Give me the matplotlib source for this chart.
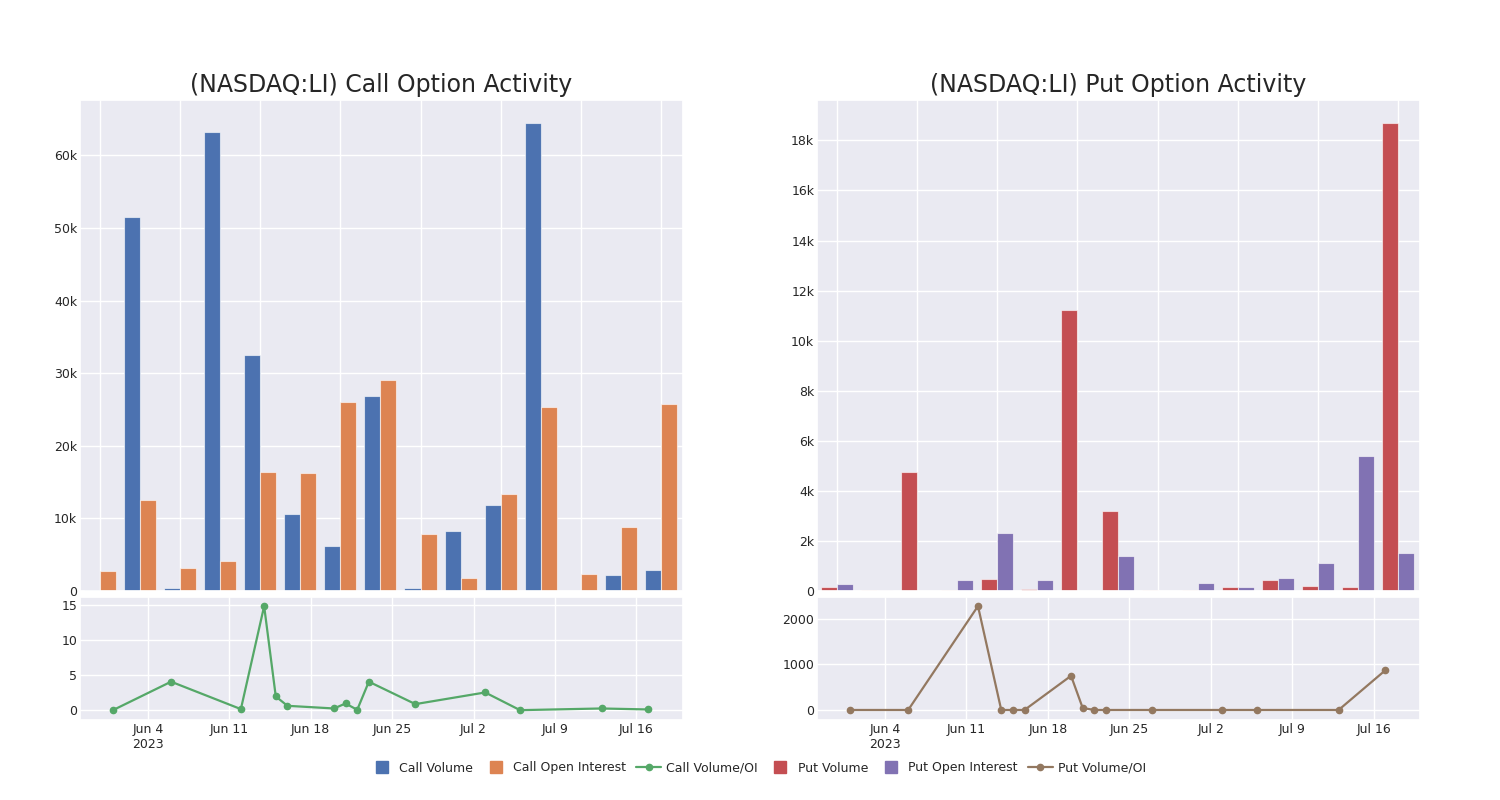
import numpy as np
import pandas as pd
import matplotlib
matplotlib.use("Agg")
import matplotlib.pyplot as plt
import seaborn as sns
from matplotlib.lines import Line2D

sns.set_theme(style="darkgrid")
plt.rcParams['font.family'] = ['DejaVu Sans']

# trade dates (one bar group / line point each)
dates = pd.to_datetime(["2023-06-01", "2023-06-06", "2023-06-12", "2023-06-14", "2023-06-15",
                        "2023-06-16", "2023-06-20", "2023-06-21", "2023-06-22", "2023-06-23",
                        "2023-06-27", "2023-07-03", "2023-07-06", "2023-07-13", "2023-07-17"])

call_volume = [100, 51500, 450, 63250, 32500, 10600, 6200, 26900, 400, 8200, 11850, 64400, 50, 2170, 2860]
call_oi = [2800, 12500, 3100, 4150, 16450, 16300, 26000, 29100, 7850, 1850, 13300, 25300, 2300, 8800, 25700]
call_ratio = [0.0, 4.05, 0.15, 14.8, 1.95, 0.62, 0.24, 0.95, 0.05, 4.05, 0.86, 2.52, 0.0, 0.24, 0.1]

put_volume = [150, 20, 4740, 20, 470, 70, 11230, 3200, 30, 30, 150, 430, 190, 150, 18680]
put_oi = [270, 30, 10, 450, 2300, 430, 10, 1390, 10, 330, 150, 500, 1120, 5410, 1520]
put_ratio = [0, 0, 2280, 0, 0, 0, 750, 44, 0, 0, 0, 0, 0, 0, 868]

week_ticks = pd.to_datetime(["2023-06-04", "2023-06-11", "2023-06-18", "2023-06-25",
                             "2023-07-02", "2023-07-09", "2023-07-16"])
week_labels = ["Jun 4\n2023", "Jun 11", "Jun 18", "Jun 25", "Jul 2", "Jul 9", "Jul 16"]

blue, orange, green, red, purple, brown = sns.color_palette("deep")[:6]

fig = plt.figure(figsize=(15, 8), dpi=100)


def k_fmt(v, pos):
    return "0" if v == 0 else "%dk" % round(v / 1000)


def panel(left, title, vol, oi, ratio, c1, c2, c3, ystep, rlim, rticks):
    ax = fig.add_axes([left, 0.26125, 0.402, 0.61375])
    lx = fig.add_axes([left, 0.1, 0.402, 0.15375])
    x = np.arange(len(vol))
    ax.bar(x - 0.2, vol, width=0.4, color=c1, edgecolor=(1, 1, 1, 0.6), linewidth=0.8)
    ax.bar(x + 0.2, oi, width=0.4, color=c2, edgecolor=(1, 1, 1, 0.6), linewidth=0.8)
    ax.set_xlim(-0.5, 14.55)
    ax.set_xticks(x[::2])
    ax.set_xticklabels([])
    ax.yaxis.set_major_locator(plt.MultipleLocator(ystep))
    ax.yaxis.set_major_formatter(plt.FuncFormatter(k_fmt))
    ax.tick_params(labelsize=9, pad=2, length=0)
    ax.set_title(title, fontsize=17, pad=6, color="#262626")

    lx.plot(dates, ratio, color=c3, marker="o", markersize=4.5, linewidth=1.6)
    lx.set_xlim(pd.Timestamp("2023-05-29 04:00"), pd.Timestamp("2023-07-20"))
    lx.set_ylim(*rlim)
    lx.set_yticks(rticks)
    lx.set_xticks(week_ticks)
    lx.set_xticklabels(week_labels)
    lx.tick_params(labelsize=9, pad=2, length=0)
    return ax, lx


panel(0.0533, "(NASDAQ:LI) Call Option Activity", call_volume, call_oi, call_ratio,
      blue, orange, green, 10000, (-1.4, 16.1), [0, 5, 10, 15])
panel(0.5447, "(NASDAQ:LI) Put Option Activity", put_volume, put_oi, put_ratio,
      red, purple, brown, 2000, (-220, 2480), [0, 1000, 2000])

handles = [
    Line2D([], [], color=blue, marker="s", linestyle="none", markersize=8),
    Line2D([], [], color=orange, marker="s", linestyle="none", markersize=8),
    Line2D([], [], color=green, marker="o", markersize=4.5, linewidth=1.6),
    Line2D([], [], color=red, marker="s", linestyle="none", markersize=8),
    Line2D([], [], color=purple, marker="s", linestyle="none", markersize=8),
    Line2D([], [], color=brown, marker="o", markersize=4.5, linewidth=1.6),
]
labels = ["Call Volume", "Call Open Interest", "Call Volume/OI",
          "Put Volume", "Put Open Interest", "Put Volume/OI"]
fig.legend(handles, labels, loc="center", bbox_to_anchor=(0.505, 0.04), ncol=6,
           frameon=False, fontsize=9, columnspacing=0.8, handletextpad=0.4)

fig.savefig("out.png", dpi=100)
